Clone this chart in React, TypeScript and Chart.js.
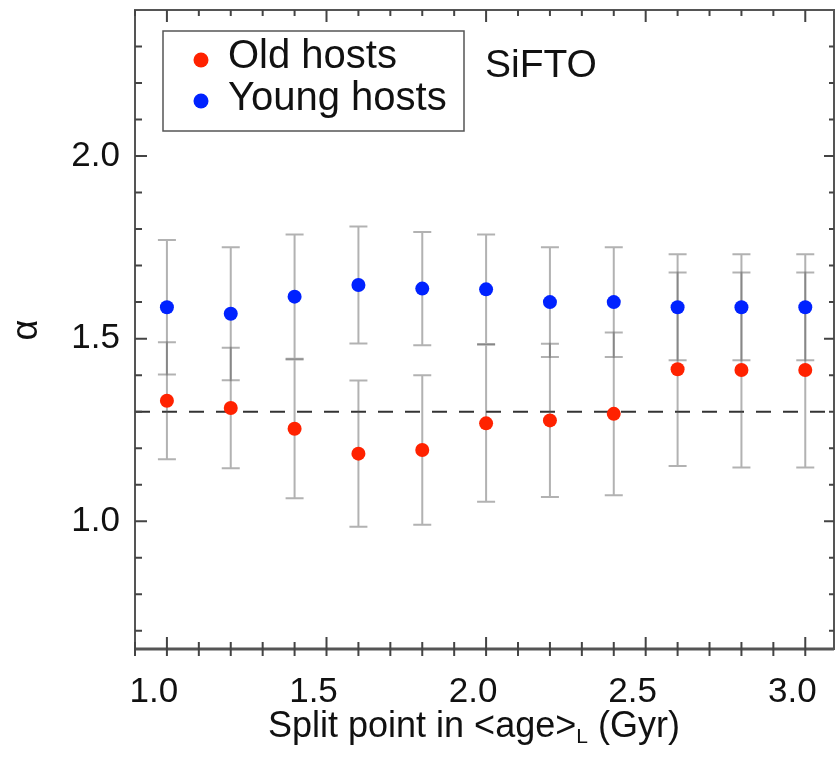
import React, { useEffect, useRef } from "react";
import { Chart, registerables } from "chart.js";

Chart.register(...registerables);

// ---- data ----
const splitPoints = [1.0, 1.2, 1.4, 1.6, 1.8, 2.0, 2.2, 2.4, 2.6, 2.8, 3.0];
const oldAlpha = [1.33, 1.31, 1.253, 1.185, 1.195, 1.268, 1.276, 1.294, 1.416, 1.414, 1.414];
const oldErr = [0.16, 0.165, 0.19, 0.2, 0.205, 0.215, 0.21, 0.223, 0.265, 0.267, 0.267];
const youngAlpha = [1.586, 1.568, 1.615, 1.647, 1.637, 1.635, 1.6, 1.6, 1.586, 1.586, 1.586];
const youngErr = [0.184, 0.182, 0.17, 0.16, 0.155, 0.15, 0.15, 0.15, 0.145, 0.145, 0.145];
const referenceAlpha = 1.3;

const seriesNames = ["Old hosts", "Young hosts"];
const seriesColors = ["#ff2200", "#0022ff"];

const xMajorTicks = [1.0, 1.5, 2.0, 2.5, 3.0];
const xMinorTicks = [0.9, 1.1, 1.2, 1.3, 1.4, 1.6, 1.7, 1.8, 1.9, 2.1, 2.2, 2.3, 2.4, 2.6, 2.7, 2.8, 2.9];
const yMajorTicks = [1.0, 1.5, 2.0];
const yMinorTicks = [0.7, 0.8, 0.9, 1.1, 1.2, 1.3, 1.4, 1.6, 1.7, 1.8, 1.9, 2.1, 2.2, 2.3];

const xTitleMain = "Split point in <age>";
const xTitleSub = "L";
const xTitleTail = " (Gyr)";
const yTitle = "α";
const methodLabel = "SiFTO";

const FONT = "'Liberation Sans', Arial, Helvetica, sans-serif";

const decorPlugin = {
  id: "decor",
  beforeDatasetsDraw(chart: any) {
    const { ctx, chartArea: a, scales } = chart;
    const xs = scales.x;
    const ys = scales.y;
    ctx.save();
    // reference dashed line
    const yr = ys.getPixelForValue(referenceAlpha);
    ctx.strokeStyle = "#333";
    ctx.lineWidth = 2;
    ctx.setLineDash([15, 12]);
    ctx.beginPath();
    ctx.moveTo(a.left, yr);
    ctx.lineTo(a.right, yr);
    ctx.stroke();
    ctx.setLineDash([]);
    // error bars
    ctx.strokeStyle = "rgba(85,85,85,0.45)";
    ctx.lineWidth = 2;
    const sets: [number[], number[]][] = [
      [oldAlpha, oldErr],
      [youngAlpha, youngErr],
    ];
    sets.forEach(([vals, errs]) => {
      vals.forEach((v, i) => {
        const px = xs.getPixelForValue(splitPoints[i]);
        const y1 = ys.getPixelForValue(v + errs[i]);
        const y2 = ys.getPixelForValue(v - errs[i]);
        ctx.beginPath();
        ctx.moveTo(px, y1);
        ctx.lineTo(px, y2);
        ctx.moveTo(px - 9, y1);
        ctx.lineTo(px + 9, y1);
        ctx.moveTo(px - 9, y2);
        ctx.lineTo(px + 9, y2);
        ctx.stroke();
      });
    });
    ctx.restore();
  },
  afterDraw(chart: any) {
    const { ctx, chartArea: a, scales } = chart;
    const xs = scales.x;
    const ys = scales.y;
    ctx.save();
    // frame
    ctx.strokeStyle = "#555";
    ctx.lineWidth = 2;
    ctx.strokeRect(a.left, a.top, a.right - a.left, a.bottom - a.top);
    ctx.lineWidth = 3;
    ctx.beginPath();
    ctx.moveTo(a.left, a.bottom);
    ctx.lineTo(a.right, a.bottom);
    ctx.stroke();
    // ticks
    ctx.lineWidth = 2;
    ctx.strokeStyle = "#444";
    const xt = (vals: number[], inB: number, outB: number, inT: number) => {
      vals.forEach((v) => {
        const p = xs.getPixelForValue(v);
        ctx.beginPath();
        ctx.moveTo(p, a.bottom - inB);
        ctx.lineTo(p, a.bottom + outB);
        ctx.moveTo(p, a.top);
        ctx.lineTo(p, a.top + inT);
        ctx.stroke();
      });
    };
    xt(xMajorTicks, 12, 7, 12);
    xt(xMinorTicks, 7, 7, 6);
    const yt = (vals: number[], inL: number, inR: number) => {
      vals.forEach((v) => {
        const p = ys.getPixelForValue(v);
        ctx.beginPath();
        ctx.moveTo(a.left, p);
        ctx.lineTo(a.left + inL, p);
        ctx.moveTo(a.right, p);
        ctx.lineTo(a.right - inR, p);
        ctx.stroke();
      });
    };
    yt(yMajorTicks, 12, 10);
    yt(yMinorTicks, 7, 5);

    // legend
    ctx.strokeStyle = "#555";
    ctx.lineWidth = 1.5;
    ctx.strokeRect(163, 31, 301, 100);
    ctx.font = `40px ${FONT}`;
    ctx.textBaseline = "alphabetic";
    ctx.textAlign = "left";
    const rows = [
      { y: 68, my: 60 },
      { y: 110, my: 101 },
    ];
    rows.forEach((r, i) => {
      ctx.fillStyle = seriesColors[i];
      ctx.beginPath();
      ctx.arc(201, r.my, 7.5, 0, Math.PI * 2);
      ctx.fill();
      ctx.fillStyle = "#111";
      ctx.fillText(seriesNames[i], 228, r.y);
    });
    // method label
    ctx.font = `39px ${FONT}`;
    ctx.fillText(methodLabel, 485, 77);

    // x title
    ctx.font = `36px ${FONT}`;
    let x = 268;
    ctx.fillText(xTitleMain, x, 737);
    x += ctx.measureText(xTitleMain).width;
    ctx.font = `21px ${FONT}`;
    ctx.fillText(xTitleSub, x, 743);
    x += ctx.measureText(xTitleSub).width;
    ctx.font = `36px ${FONT}`;
    ctx.fillText(xTitleTail, x, 737);

    // y title
    ctx.save();
    ctx.translate(27, 330);
    ctx.rotate(-Math.PI / 2);
    ctx.textAlign = "center";
    ctx.textBaseline = "middle";
    ctx.font = `36px ${FONT}`;
    ctx.fillText(yTitle, 0, 0);
    ctx.restore();

    ctx.restore();
  },
};

const zeroPad = (s: any) => {
  s.paddingLeft = 0;
  s.paddingRight = 0;
  s.paddingTop = 0;
  s.paddingBottom = 0;
};

export default function App() {
  const ref = useRef<HTMLCanvasElement | null>(null);
  useEffect(() => {
    document.body.style.margin = "0";
    const canvas = ref.current!;
    const chart = new Chart(canvas, {
      type: "scatter",
      data: {
        datasets: [
          {
            label: seriesNames[0],
            data: splitPoints.map((x, i) => ({ x, y: oldAlpha[i] })),
            backgroundColor: seriesColors[0],
            borderColor: seriesColors[0],
            pointRadius: 7,
            borderWidth: 0,
          },
          {
            label: seriesNames[1],
            data: splitPoints.map((x, i) => ({ x, y: youngAlpha[i] })),
            backgroundColor: seriesColors[1],
            borderColor: seriesColors[1],
            pointRadius: 7,
            borderWidth: 0,
          },
        ],
      },
      options: {
        animation: false,
        responsive: false,
        layout: { autoPadding: false, padding: { top: 10, right: 2, left: 0, bottom: 0 } },
        plugins: { legend: { display: false }, tooltip: { enabled: false } },
        scales: {
          x: {
            type: "linear",
            min: 0.9,
            max: 3.09,
            grid: { display: false, drawTicks: false },
            border: { display: false },
            afterBuildTicks: (s: any) => {
              s.ticks = xMajorTicks.map((v) => ({ value: v }));
            },
            afterFit: (s: any) => {
              s.height = 108;
              zeroPad(s);
            },
            ticks: {
              callback: (v: any) => Number(v).toFixed(1),
              font: { size: 35, family: FONT },
              color: "#111",
              padding: 22,
              labelOffset: -13,
              maxRotation: 0,
              autoSkip: false,
            },
          },
          y: {
            type: "linear",
            min: 0.65,
            max: 2.4,
            grid: { display: false, drawTicks: false },
            border: { display: false },
            afterBuildTicks: (s: any) => {
              s.ticks = yMajorTicks.map((v) => ({ value: v }));
            },
            afterFit: (s: any) => {
              s.width = 135;
              zeroPad(s);
            },
            ticks: {
              callback: (v: any) => Number(v).toFixed(1),
              font: { size: 35, family: FONT },
              color: "#111",
              padding: 15,
              autoSkip: false,
            },
          },
        },
      },
      plugins: [decorPlugin],
    });
    return () => chart.destroy();
  }, []);
  return (
    <div style={{ width: 836, height: 757, background: "#fff" }}>
      <canvas ref={ref} width={836} height={757} style={{ display: "block" }} />
    </div>
  );
}
